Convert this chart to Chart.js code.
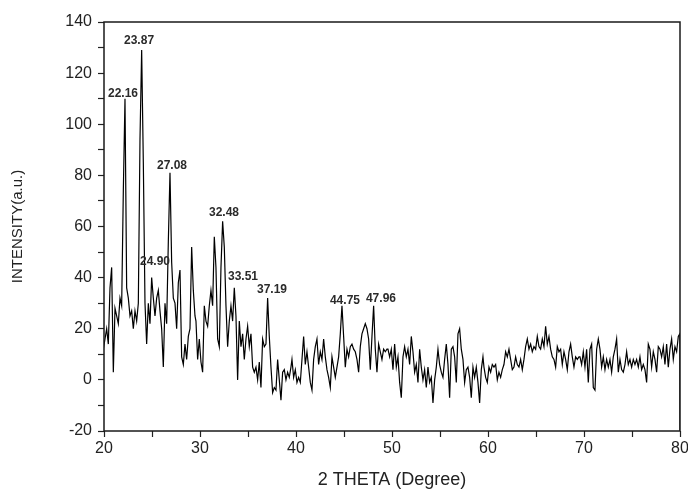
<!DOCTYPE html>
<html>
<head>
    <title>XRD</title>
    <script src="https://cdn.jsdelivr.net/npm/chart.js"></script>
    <meta name="viewport" content="width=device-width, initial-scale=1.0">
    <style>
        html, body { margin: 0; padding: 0; background: #fff; }
        #wrap { width: 688px; height: 493px; }
    </style>
</head>
<body>
    <div id="wrap"><canvas id="chart"></canvas></div>

    <script>
        // 2θ 采样: 每段起点 + 固定步长
        var step = 0.1736;
        var segStarts = [19.93, 29.58, 39.58, 49.58, 59.58, 69.58];

        // 强度读数 (a.u.)
        var seg20 = [12, 16, 20, 14, 36, 44, 3, 28, 25, 22, 32, 29, 74, 110, 36, 32, 25, 27, 20, 27,
                     23, 30, 94, 129, 85, 30, 14, 30, 22, 40, 32, 25, 32, 35, 27, 20, 5, 30, 22, 54,
                     81, 46, 32, 30, 20, 38, 43, 9, 6, 14, 8, 17, 20, 52, 35, 25];
        var seg30 = [23, 8, 16, 7, 3, 29, 23, 21, 29, 35, 29, 56, 44, 16, 13, 44, 62, 52, 29, 13,
                     23, 29, 23, 36, 25, 0, 23, 13, 18, 8, 16, 21, 13, 18, 5, 3, 5, 0, 7, -3,
                     16, 13, 14, 32, 17, 5, -5, -3, -4, 8, 0, -8, 3, 4, 0, 3, 1, 5];
        var seg40 = [8, 1, 4, -1, 1, -1, 8, 17, 6, 11, 5, -1, -4, 8, 13, 16, 6, 11, 8, 16,
                     9, 4, 1, -3, 9, 5, 1, 5, 9, 18, 29, 17, 5, 12, 9, 13, 14, 12, 11, 8,
                     3, 13, 18, 20, 22, 20, 16, 4, 17, 29, 12, 3, 14, 11, 8, 12, 11, 12];
        var seg50 = [12, 9, 12, 4, 14, 5, 9, -1, -7, 9, 13, 9, 12, 6, 17, 11, 3, 6, -1, 12,
                     5, 0, 4, -3, 5, -1, 1, -9, 0, 5, 12, 6, 3, 1, 8, 14, 6, -7, 12, 13,
                     9, -1, 18, 20, 12, 8, -1, 4, 5, 1, -7, 5, 1, 5, -1, -9, 4, 9];
        var seg60 = [5, 1, -1, 5, 3, 6, 5, 6, 0, 3, 1, 4, 6, 11, 9, 12, 8, 4, 5, 9,
                     6, 5, 8, 4, 8, 13, 16, 12, 14, 11, 13, 12, 17, 13, 12, 16, 13, 21, 14, 17,
                     12, 9, 8, 5, 13, 11, 12, 6, 11, 8, 4, 11, 14, 9, 5, 9, 8, 9];
        var seg70 = [9, 6, 11, 5, 12, -1, 12, 14, -3, -4, 12, 16, 12, 5, 9, 4, 8, 5, 8, 3,
                     9, 12, 16, 3, 8, 4, 3, 6, 11, 6, 8, 5, 8, 6, 8, 5, 9, 4, 6, 4,
                     -1, 14, 12, 5, 11, 8, 3, 13, 12, 9, 13, 6, 14, 5, 12, 16, 8, 13, 11, 17];
        var endTheta = [79.98, 80];
        var endIntensity = [18, -20];

        // 峰标注
        var peakLabels = ["22.16", "23.87", "24.90", "27.08", "32.48", "33.51", "37.19", "44.75", "47.96"];
        var peakLabelTheta = [21.98, 23.65, 25.31, 27.08, 32.5, 34.48, 37.5, 45.1, 48.85];
        var peakLabelValue = [112, 132.6, 46.2, 83.7, 65.3, 40.3, 35.2, 30.9, 31.7];

        var segments = [seg20, seg30, seg40, seg50, seg60, seg70];
        var points = [];
        segments.forEach(function (seg, s) {
            seg.forEach(function (v, i) {
                points.push({ x: segStarts[s] + i * step, y: v });
            });
        });
        endTheta.forEach(function (t, i) {
            points.push({ x: t, y: endIntensity[i] });
        });

        var font = "'Liberation Sans', Arial, sans-serif";

        // 边框 + 峰值标签
        var framePlugin = {
            id: "frame",
            afterDatasetsDraw: function (chart) {
                var ctx = chart.ctx, a = chart.chartArea;
                var xs = chart.scales.x, ys = chart.scales.y;
                ctx.save();
                ctx.strokeStyle = "#1a1a1a";
                ctx.lineWidth = 1.5;
                ctx.strokeRect(a.left, a.top, a.right - a.left, a.bottom - a.top);
                ctx.fillStyle = "#2b2b2b";
                ctx.font = "bold 12px " + font;
                ctx.textAlign = "center";
                ctx.textBaseline = "middle";
                peakLabels.forEach(function (t, i) {
                    ctx.fillText(t, xs.getPixelForValue(peakLabelTheta[i]), ys.getPixelForValue(peakLabelValue[i]));
                });
                ctx.restore();
            }
        };

        var chartConfig = {
            type: "line",
            data: {
                datasets: [{
                    data: points,
                    borderColor: "#000",
                    borderWidth: 1.2,
                    pointRadius: 0,
                    tension: 0,
                    fill: false
                }]
            },
            options: {
                responsive: true,
                maintainAspectRatio: false,
                animation: false,
                layout: { padding: { top: 22, right: 8, left: 0, bottom: 0 } },
                plugins: {
                    legend: { display: false },
                    tooltip: { enabled: false }
                },
                scales: {
                    x: {
                        type: "linear",
                        min: 20,
                        max: 80,
                        afterFit: function (s) {
                            s.height = 62;
                            s.paddingLeft = 0;
                            s.paddingRight = 0;
                        },
                        border: { display: false },
                        grid: { drawOnChartArea: false, drawTicks: true, tickLength: 6, tickColor: "#222", tickWidth: 1.2 },
                        ticks: {
                            stepSize: 5,
                            autoSkip: false,
                            maxRotation: 0,
                            padding: 2,
                            color: "#222",
                            font: { family: font, size: 16 },
                            callback: function (v) { return v % 10 === 0 ? v : ""; }
                        },
                        title: {
                            display: true,
                            text: "2 THETA (Degree)",
                            color: "#222",
                            font: { family: font, size: 18 },
                            padding: { top: 0, bottom: 2 }
                        }
                    },
                    y: {
                        min: -20,
                        max: 140,
                        afterFit: function (s) {
                            s.width = 104;
                            s.paddingTop = 0;
                            s.paddingBottom = 0;
                        },
                        border: { display: false },
                        grid: { drawOnChartArea: false, drawTicks: true, tickLength: 6, tickColor: "#222", tickWidth: 1.2 },
                        ticks: {
                            stepSize: 10,
                            autoSkip: false,
                            padding: 6,
                            color: "#222",
                            font: { family: font, size: 16 },
                            callback: function (v) { return v % 20 === 0 ? v : ""; }
                        },
                        title: {
                            display: true,
                            text: "INTENSITY(a.u.)",
                            color: "#222",
                            font: { family: font, size: 15 },
                            padding: { top: 9, bottom: 0 }
                        }
                    }
                }
            },
            plugins: [framePlugin]
        };

        var ctx = document.getElementById("chart").getContext("2d");
        var chart = new Chart(ctx, chartConfig);
    </script>
</body>
</html>
